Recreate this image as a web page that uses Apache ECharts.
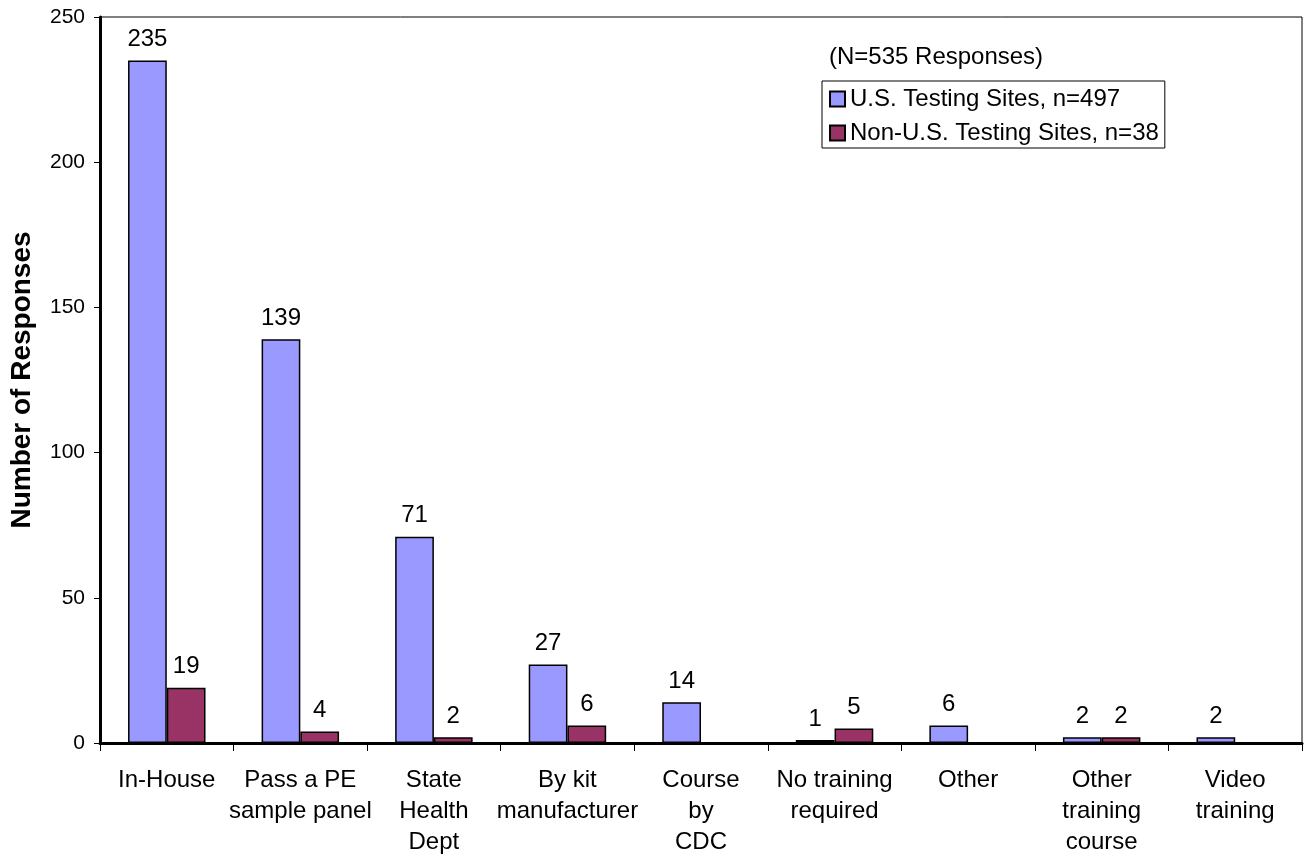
<!DOCTYPE html>
<html lang="en">
<head>
    <meta charset="UTF-8">
    <title>Training</title>
    <script src="https://cdn.jsdelivr.net/npm/echarts@6.0.0/dist/echarts.min.js"></script>
    <style>
        html, body { margin: 0; padding: 0; background: #fff; }
        #main { width: 1306px; height: 859px; }
    </style>
</head>
<body>
<div id="main"></div>
<script>
    // data
    var categories = ['In-House', 'Pass a PE\nsample panel', 'State\nHealth\nDept', 'By kit\nmanufacturer',
        'Course\nby\nCDC', 'No training\nrequired', 'Other', 'Other\ntraining\ncourse', 'Video\ntraining'];
    var usSites = [235, 139, 71, 27, 14, 1, 6, 2, 2];
    var nonUsSites = [19, 4, 2, 6, 0, 5, 0, 2, 0];
    var seriesNames = ['U.S. Testing Sites, n=497', 'Non-U.S. Testing Sites, n=38'];
    var yTicks = [0, 50, 100, 150, 200, 250];

    var font = 'Arial, "Liberation Sans", sans-serif';

    // 0 values get no label
    function lbl(p) {
        return p.value === 0 ? '' : p.value;
    }

    var chart = echarts.init(document.getElementById('main'));
    var option = {
        animation: false,
        textStyle: {fontFamily: font},
        grid: {
            left: 100,
            right: 4,
            top: 17,
            bottom: 116,
            show: true,
            borderColor: '#000',
            borderWidth: 1
        },
        legend: {
            orient: 'vertical',
            left: 822,
            top: 81,
            padding: [6, 6, 3, 7],
            itemGap: 10,
            itemWidth: 15,
            itemHeight: 15,
            icon: 'rect',
            borderColor: '#000',
            borderWidth: 1,
            textStyle: {fontSize: 24, color: '#000', fontFamily: font},
            data: seriesNames
        },
        graphic: [{
            type: 'text',
            left: 829,
            top: 45,
            style: {text: '(N=535 Responses)', font: '24px ' + font, fill: '#000'}
        }],
        xAxis: {
            type: 'category',
            data: categories,
            axisLine: {lineStyle: {color: '#000', width: 3}},
            axisTick: {show: true, length: 8, lineStyle: {color: '#000', width: 1}},
            axisLabel: {color: '#000', fontSize: 24, lineHeight: 31, margin: 22, interval: 0}
        },
        yAxis: {
            type: 'value',
            min: yTicks[0],
            max: yTicks[yTicks.length - 1],
            interval: 50,
            name: 'Number of Responses',
            nameLocation: 'middle',
            nameGap: 64,
            nameTextStyle: {fontSize: 28, fontWeight: 'bold', color: '#000'},
            splitLine: {show: false},
            axisLine: {show: true, lineStyle: {color: '#000', width: 3}},
            axisTick: {show: true, length: 6, lineStyle: {color: '#000', width: 1}},
            axisLabel: {color: '#000', fontSize: 21, margin: 15}
        },
        series: [{
            name: seriesNames[0],
            type: 'bar',
            data: usSites,
            barGap: '0%',
            barCategoryGap: '42%',
            itemStyle: {color: '#9999FF', borderColor: '#000', borderWidth: 1.5},
            label: {show: true, position: 'top', distance: 9, fontSize: 24, color: '#000', formatter: lbl}
        }, {
            name: seriesNames[1],
            type: 'bar',
            data: nonUsSites,
            itemStyle: {color: '#993366', borderColor: '#000', borderWidth: 1.5},
            label: {show: true, position: 'top', distance: 9, fontSize: 24, color: '#000', formatter: lbl}
        }]
    };
    chart.setOption(option);
</script>
</body>
</html>
